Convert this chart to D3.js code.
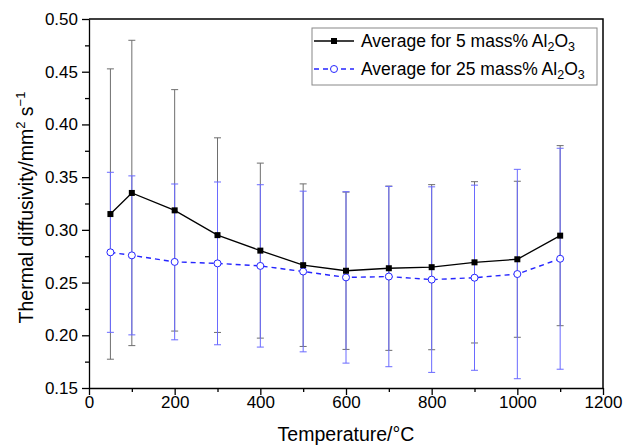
<!DOCTYPE html>
<html>
<head>
<meta charset="utf-8">
<script src="https://cdn.jsdelivr.net/npm/d3@7"></script>
<style>
  body { margin: 0; background: #fff; }
  svg { font-family: "Liberation Sans", Arial, sans-serif; }
</style>
</head>
<body>
<svg id="chart" width="624" height="447"></svg>
<script>
// temperatures (°C)
var temps = [50, 100, 200, 300, 400, 500, 600, 700, 800, 900, 1000, 1100];
// average for 5 mass% Al2O3 and its error
var avg5 = [0.315, 0.335, 0.3185, 0.295, 0.2803, 0.2665, 0.2612, 0.2636, 0.2646, 0.2692, 0.2721, 0.2945];
var err5 = [0.1377, 0.1448, 0.1145, 0.0923, 0.083, 0.0771, 0.0746, 0.0779, 0.0783, 0.0765, 0.074, 0.0854];
// average for 25 mass% Al2O3 and its error
var avg25 = [0.2787, 0.2758, 0.2696, 0.2682, 0.2658, 0.2605, 0.2549, 0.2557, 0.2528, 0.2546, 0.2581, 0.2726];
var err25 = [0.0759, 0.0754, 0.0739, 0.0772, 0.077, 0.0762, 0.0813, 0.0855, 0.088, 0.0878, 0.0993, 0.1048];

var xTicks = [0, 200, 400, 600, 800, 1000, 1200];
var xMinor = [100, 300, 500, 700, 900, 1100];
var yTicks = [0.15, 0.20, 0.25, 0.30, 0.35, 0.40, 0.45, 0.50];
var yMinor = [0.175, 0.225, 0.275, 0.325, 0.375, 0.425, 0.475];

var svg = d3.select("#chart"),
    margin = {top: 19, right: 21, bottom: 59, left: 89},
    width = +svg.attr("width") - margin.left - margin.right,
    height = +svg.attr("height") - margin.top - margin.bottom,
    g = svg.append("g").attr("transform", "translate(" + margin.left + "," + margin.top + ")");

var x = d3.scaleLinear().domain([0, 1200]).range([0, width]);
var y = d3.scaleLinear().domain([0.15, 0.50]).range([height, 0]);

// frame (top and right)
g.append("path")
    .attr("d", "M0,0H" + width + "V" + height)
    .attr("fill", "none")
    .attr("stroke", "#000")
    .attr("stroke-width", 1.5);

// axes
g.append("g")
    .attr("transform", "translate(0," + height + ")")
    .call(d3.axisBottom(x).tickValues(xTicks).tickSize(7).tickSizeOuter(0).tickPadding(1).tickFormat(d3.format("d")));
g.append("g")
    .attr("transform", "translate(0," + height + ")")
    .call(d3.axisBottom(x).tickValues(xMinor).tickSize(4).tickFormat(""))
    .select(".domain").remove();

g.append("g")
    .call(d3.axisLeft(y).tickValues(yTicks).tickSize(7).tickSizeOuter(0).tickPadding(4).tickFormat(d3.format(".2f")));
g.append("g")
    .call(d3.axisLeft(y).tickValues(yMinor).tickSize(4).tickFormat(""))
    .select(".domain").remove();

g.selectAll(".tick text").attr("font-size", 17).attr("font-family", "Liberation Sans, Arial, sans-serif").attr("fill", "#000");
g.selectAll(".domain, .tick line").attr("stroke", "#000").attr("stroke-width", 1.3);

// error bars
function errorBars(vals, errs, color) {
  var cap = 3.5;
  var eb = g.append("g").attr("stroke", color).attr("stroke-width", 1);
  temps.forEach(function (t, i) {
    var cx = x(t), y0 = y(vals[i] - errs[i]), y1 = y(vals[i] + errs[i]);
    eb.append("line").attr("x1", cx).attr("x2", cx).attr("y1", y0).attr("y2", y1);
    eb.append("line").attr("x1", cx - cap).attr("x2", cx + cap).attr("y1", y0).attr("y2", y0);
    eb.append("line").attr("x1", cx - cap).attr("x2", cx + cap).attr("y1", y1).attr("y2", y1);
  });
}
errorBars(avg5, err5, "#6e6e6e");
errorBars(avg25, err25, "#6a6aff");

var line = d3.line().x(function (d) { return x(d[0]); }).y(function (d) { return y(d[1]); });

// 25 mass% series
g.append("path")
    .datum(d3.zip(temps, avg25))
    .attr("d", line)
    .attr("fill", "none")
    .attr("stroke", "#2525ff")
    .attr("stroke-width", 1.4)
    .attr("stroke-dasharray", "5,4");
g.selectAll(".c25")
    .data(d3.zip(temps, avg25))
    .enter().append("circle")
    .attr("class", "c25")
    .attr("cx", function (d) { return x(d[0]); })
    .attr("cy", function (d) { return y(d[1]); })
    .attr("r", 3.5)
    .attr("fill", "#fff")
    .attr("stroke", "#2525ff")
    .attr("stroke-width", 1);

// 5 mass% series
g.append("path")
    .datum(d3.zip(temps, avg5))
    .attr("d", line)
    .attr("fill", "none")
    .attr("stroke", "#000")
    .attr("stroke-width", 1.3);
g.selectAll(".s5")
    .data(d3.zip(temps, avg5))
    .enter().append("rect")
    .attr("class", "s5")
    .attr("x", function (d) { return x(d[0]) - 3; })
    .attr("y", function (d) { return y(d[1]) - 3; })
    .attr("width", 6)
    .attr("height", 6)
    .attr("fill", "#000");

// axis titles
svg.append("text")
    .attr("x", margin.left + width / 2)
    .attr("y", 441)
    .attr("text-anchor", "middle")
    .attr("font-size", 19.5)
    .text("Temperature/°C");

var yt = svg.append("text")
    .attr("transform", "translate(33," + (margin.top + height / 2 + 4) + ") rotate(-90)")
    .attr("text-anchor", "middle")
    .attr("font-size", 19.5);
yt.append("tspan").text("Thermal diffusivity/mm");
yt.append("tspan").attr("font-size", 13).attr("dy", -8).text("2");
yt.append("tspan").attr("dy", 8).text(" s");
yt.append("tspan").attr("font-size", 13).attr("dy", -8).text("\u22121");

// legend
var legend = svg.append("g").attr("transform", "translate(312,28)");
legend.append("rect")
    .attr("width", 285).attr("height", 57)
    .attr("fill", "#fff").attr("stroke", "#888").attr("stroke-width", 1);

var entries = [
  {label: "Average for 5 mass% Al", color: "#000", dash: null, marker: "square", y: 13},
  {label: "Average for 25 mass% Al", color: "#2525ff", dash: "5,4", marker: "circle", y: 41}
];
entries.forEach(function (e) {
  var row = legend.append("g").attr("transform", "translate(0," + e.y + ")");
  row.append("line").attr("x1", 2).attr("x2", 42).attr("y1", 0).attr("y2", 0)
      .attr("stroke", e.color).attr("stroke-width", 1.3).attr("stroke-dasharray", e.dash);
  if (e.marker === "square") {
    row.append("rect").attr("x", 19).attr("y", -3).attr("width", 6).attr("height", 6).attr("fill", "#000");
  } else {
    row.append("circle").attr("cx", 22).attr("cy", 0).attr("r", 3.5).attr("fill", "#fff").attr("stroke", e.color);
  }
  var t = row.append("text").attr("x", 49).attr("y", 6).attr("font-size", 17.5);
  t.append("tspan").text(e.label);
  t.append("tspan").attr("font-size", 12.5).attr("dy", 4).text("2");
  t.append("tspan").attr("dy", -4).text("O");
  t.append("tspan").attr("font-size", 12.5).attr("dy", 4).text("3");
});
</script>
</body>
</html>
